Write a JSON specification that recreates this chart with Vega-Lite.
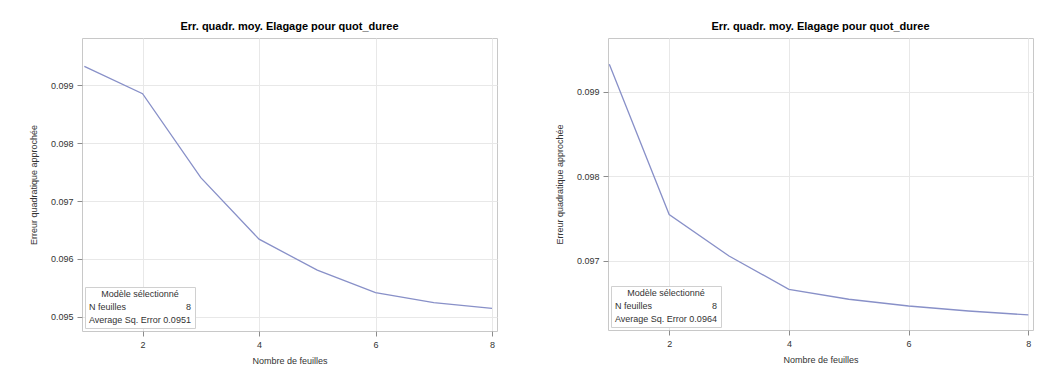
{
  "$schema": "https://vega.github.io/schema/vega-lite/v6.json",
  "background": "white",
  "padding": {"left": 28, "top": 20, "right": 0, "bottom": 0},
  "spacing": 56,
  "config": {
    "font": "Liberation Sans",
    "view": {"stroke": "#c8c8c8", "strokeWidth": 1},
    "axis": {
      "domain": false,
      "grid": true,
      "gridColor": "#e8e8e8",
      "tickColor": "#8c8c8c",
      "tickSize": 5,
      "labelFontSize": 9,
      "labelColor": "#333333",
      "titleFontSize": 9,
      "titleFontWeight": "normal",
      "titleColor": "#333333"
    },
    "title": {"fontSize": 11, "fontWeight": "bold", "color": "#000000", "offset": 6, "anchor": "middle"},
    "legend": {
      "orient": "bottom-left",
      "offset": 3,
      "padding": 3,
      "fillColor": "white",
      "strokeColor": "#d0d0d0",
      "titleFontSize": 9,
      "titleFontWeight": "normal",
      "titleColor": "#333333",
      "titleAnchor": "middle",
      "titleAlign": "center",
      "titlePadding": 3,
      "labelFontSize": 9,
      "labelColor": "#333333",
      "symbolSize": 0,
      "symbolOpacity": 0,
      "symbolStrokeWidth": 0,
      "labelOffset": -8,
      "rowPadding": 3
    }
  },
  "hconcat": [
    {
      "title": "Err. quadr. moy. Elagage pour quot_duree",
      "width": 415,
      "height": 293,
      "layer": [
        {
          "data": {"values": [
            {"feuilles": 1, "err": 0.099328},
            {"feuilles": 2, "err": 0.098855},
            {"feuilles": 3, "err": 0.097403},
            {"feuilles": 4, "err": 0.096340},
            {"feuilles": 5, "err": 0.095805},
            {"feuilles": 6, "err": 0.095415},
            {"feuilles": 7, "err": 0.095242},
            {"feuilles": 8, "err": 0.095145}
          ]},
          "mark": {"type": "line", "color": "#8890c8", "strokeWidth": 1.3},
          "encoding": {
            "x": {"field": "feuilles", "type": "quantitative", "title": "Nombre de feuilles",
                  "scale": {"domain": [0.96, 8.086], "nice": false, "zero": false},
                  "axis": {"values": [2, 4, 6, 8], "format": "d", "labelPadding": 4, "titlePadding": 7}},
            "y": {"field": "err", "type": "quantitative", "title": "Erreur quadratique approchée",
                  "scale": {"domain": [0.094753, 0.099818], "nice": false, "zero": false},
                  "axis": {"values": [0.095, 0.096, 0.097, 0.098, 0.099], "format": ".3f", "labelPadding": 4, "titlePadding": 12}}
          }
        },
        {
          "mark": {"type": "rule", "color": "#cfcfcf", "strokeWidth": 1},
          "encoding": {"x": {"datum": 8, "type": "quantitative"}}
        },
        {
          "data": {"values": [
            {"info": "N feuilles\u00a0\u00a0\u00a0\u00a0\u00a0\u00a0\u00a0\u00a0\u00a0\u00a0\u00a0\u00a0\u00a0\u00a0\u00a0\u00a0\u00a0\u00a0\u00a0\u00a0\u00a0\u00a0\u00a0\u00a08"},
            {"info": "Average Sq. Error 0.0951"}
          ]},
          "mark": {"type": "point", "opacity": 0},
          "encoding": {
            "color": {"field": "info", "type": "nominal",
                      "scale": {"domain": ["N feuilles\u00a0\u00a0\u00a0\u00a0\u00a0\u00a0\u00a0\u00a0\u00a0\u00a0\u00a0\u00a0\u00a0\u00a0\u00a0\u00a0\u00a0\u00a0\u00a0\u00a0\u00a0\u00a0\u00a0\u00a08", "Average Sq. Error 0.0951"], "range": ["#ffffff", "#ffffff"]},
                      "legend": {"title": "Modèle sélectionné"}}
          }
        }
      ]
    },
    {
      "title": "Err. quadr. moy. Elagage pour quot_duree",
      "width": 425,
      "height": 292,
      "layer": [
        {
          "data": {"values": [
            {"feuilles": 1, "err": 0.099328},
            {"feuilles": 2, "err": 0.097550},
            {"feuilles": 3, "err": 0.097059},
            {"feuilles": 4, "err": 0.096665},
            {"feuilles": 5, "err": 0.096547},
            {"feuilles": 6, "err": 0.096467},
            {"feuilles": 7, "err": 0.096408},
            {"feuilles": 8, "err": 0.096361}
          ]},
          "mark": {"type": "line", "color": "#8890c8", "strokeWidth": 1.3},
          "encoding": {
            "x": {"field": "feuilles", "type": "quantitative", "title": "Nombre de feuilles",
                  "scale": {"domain": [0.978, 8.078], "nice": false, "zero": false},
                  "axis": {"values": [2, 4, 6, 8], "format": "d", "labelPadding": 4, "titlePadding": 7}},
            "y": {"field": "err", "type": "quantitative", "title": "Erreur quadratique approchée",
                  "scale": {"domain": [0.096183, 0.099639], "nice": false, "zero": false},
                  "axis": {"values": [0.097, 0.098, 0.099], "format": ".3f", "labelPadding": 4, "titlePadding": 12}}
          }
        },
        {
          "mark": {"type": "rule", "color": "#cfcfcf", "strokeWidth": 1},
          "encoding": {"x": {"datum": 8, "type": "quantitative"}}
        },
        {
          "data": {"values": [
            {"info": "N feuilles\u00a0\u00a0\u00a0\u00a0\u00a0\u00a0\u00a0\u00a0\u00a0\u00a0\u00a0\u00a0\u00a0\u00a0\u00a0\u00a0\u00a0\u00a0\u00a0\u00a0\u00a0\u00a0\u00a0\u00a08"},
            {"info": "Average Sq. Error 0.0964"}
          ]},
          "mark": {"type": "point", "opacity": 0},
          "encoding": {
            "color": {"field": "info", "type": "nominal",
                      "scale": {"domain": ["N feuilles\u00a0\u00a0\u00a0\u00a0\u00a0\u00a0\u00a0\u00a0\u00a0\u00a0\u00a0\u00a0\u00a0\u00a0\u00a0\u00a0\u00a0\u00a0\u00a0\u00a0\u00a0\u00a0\u00a0\u00a08", "Average Sq. Error 0.0964"], "range": ["#ffffff", "#ffffff"]},
                      "legend": {"title": "Modèle sélectionné"}}
          }
        }
      ]
    }
  ],
  "resolve": {"scale": {"color": "independent", "x": "independent", "y": "independent"}, "legend": {"color": "independent"}}
}
